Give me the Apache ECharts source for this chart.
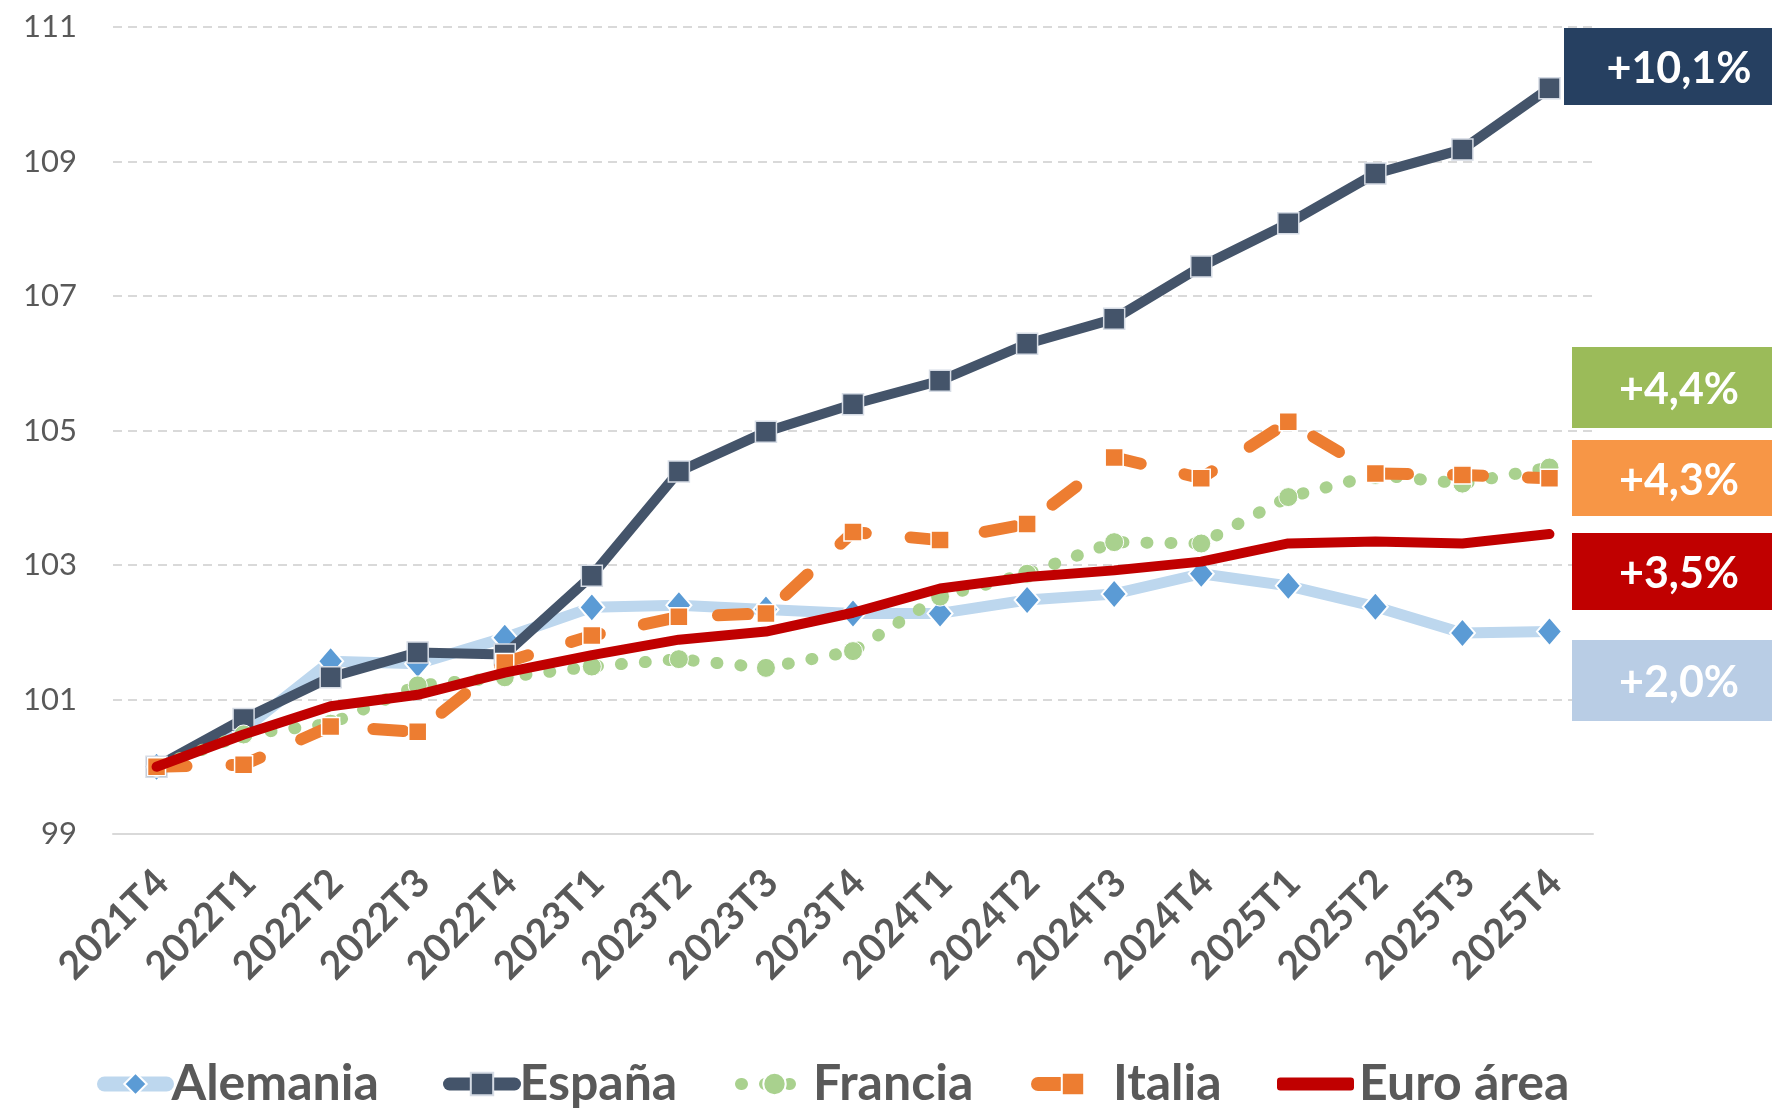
<!DOCTYPE html>
<html>
<head>
<meta charset="utf-8">
<script src="https://cdn.jsdelivr.net/npm/echarts@6/dist/echarts.min.js"></script>
<style>
html,body{margin:0;padding:0;background:#fff;}
#chart{width:1772px;height:1108px;}
</style>
</head>
<body>
<div id="chart"></div>
<script>
const categories = ['2021T4','2022T1','2022T2','2022T3','2022T4','2023T1','2023T2','2023T3','2023T4','2024T1','2024T2','2024T3','2024T4','2025T1','2025T2','2025T3','2025T4'];
const alemania = [100, 100.55, 101.57, 101.53, 101.92, 102.37, 102.40, 102.34, 102.28, 102.28, 102.48, 102.57, 102.87, 102.69, 102.38, 101.99, 102.01];
const espana   = [100, 100.71, 101.33, 101.70, 101.67, 102.84, 104.39, 104.98, 105.39, 105.74, 106.29, 106.66, 107.44, 108.08, 108.82, 109.18, 110.09];
const francia  = [100, 100.48, 100.64, 101.21, 101.33, 101.49, 101.60, 101.47, 101.72, 102.53, 102.87, 103.34, 103.32, 104.01, 104.34, 104.21, 104.45];
const italia   = [100, 100.03, 100.60, 100.52, 101.55, 101.95, 102.23, 102.28, 103.49, 103.37, 103.61, 104.60, 104.29, 105.13, 104.36, 104.34, 104.29];
const euro     = [100, 100.48, 100.90, 101.07, 101.40, 101.66, 101.89, 102.01, 102.29, 102.65, 102.82, 102.92, 103.05, 103.32, 103.35, 103.32, 103.46];
const seriesNames = ['Alemania','España','Francia','Italia','Euro área'];
const endLabels = ['+10,1%','+4,4%','+4,3%','+3,5%','+2,0%'];
const yTicks = {min: 99, max: 111, step: 2};

const FONT = 'Lato, "Open Sans", sans-serif';
const chart = echarts.init(document.getElementById('chart'), null, {renderer: 'canvas'});

function legendAt(item, left, extra) {
  return Object.assign({
    data: [item], left: left, top: 1059, itemWidth: 77, itemHeight: 28, itemGap: 0, padding: 0,
    textStyle: {fontFamily: FONT, fontSize: 50, fontWeight: 'bold', color: '#595959'}
  }, extra || {});
}

const boxes = [
  {text: endLabels[0], color: '#264061', x: 1564, y: 28, h: 77},
  {text: endLabels[1], color: '#9BBB59', x: 1572, y: 347, h: 81},
  {text: endLabels[2], color: '#F79646', x: 1572, y: 440, h: 76},
  {text: endLabels[3], color: '#C00000', x: 1572, y: 533, h: 77},
  {text: endLabels[4], color: '#B9CDE5', x: 1572, y: 640, h: 81}
];
const graphics = [];
boxes.forEach(b => {
  graphics.push({type: 'rect', z: 100, shape: {x: b.x, y: b.y, width: 1772 - b.x, height: b.h}, style: {fill: b.color}});
  graphics.push({type: 'text', z: 101, x: 1679, y: b.y + b.h / 2 + 3,
    style: {text: b.text, fill: '#ffffff', font: 'bold 43px ' + FONT, textAlign: 'center', textVerticalAlign: 'middle'}});
});

const option = {
  animation: false,
  backgroundColor: '#ffffff',
  grid: {left: 113, right: 179, top: 27, bottom: 274, containLabel: false},
  legend: [
    legendAt(seriesNames[0], 97, {itemWidth: 62, lineStyle: {width: 15, cap: 'round'}}),
    legendAt(seriesNames[1], 443, {itemWidth: 65, lineStyle: {width: 13, cap: 'round'}}),
    legendAt(seriesNames[2], 735, {itemWidth: 67, lineStyle: {width: 12, cap: 'round', type: [1, 23]}}),
    legendAt(seriesNames[3], 1031, {itemWidth: 70, lineStyle: {width: 14, cap: 'round', type: [22, 50]}}),
    legendAt({name: seriesNames[4], icon: 'roundRect'}, 1277, {itemHeight: 13})
  ],
  xAxis: {
    type: 'category', data: categories, boundaryGap: true,
    axisLine: {show: true, lineStyle: {color: '#D9D9D9', width: 2}},
    axisTick: {show: false},
    axisLabel: {rotate: 45, margin: 48, fontFamily: FONT, fontSize: 39, fontWeight: 'bold', color: '#595959', interval: 0, padding: [0, -8, 0, 0]}
  },
  yAxis: {
    type: 'value', min: yTicks.min, max: yTicks.max, interval: yTicks.step,
    axisLine: {show: false}, axisTick: {show: false},
    splitLine: {show: true, lineStyle: {color: '#D9D9D9', width: 2, type: [9, 6]}},
    axisLabel: {margin: 36, fontFamily: FONT, fontSize: 31, color: '#595959'}
  },
  series: [
    {name: seriesNames[0], type: 'line', data: alemania, z: 2,
     lineStyle: {color: '#BDD7EE', width: 11}, itemStyle: {color: '#5B9BD5', borderColor: '#ffffff', borderWidth: 2},
     symbol: 'diamond', symbolSize: [25, 29], showAllSymbol: true},
    {name: seriesNames[1], type: 'line', data: espana, z: 3,
     lineStyle: {color: '#44546A', width: 10}, itemStyle: {color: '#44546A', borderColor: '#D6DCE5', borderWidth: 1.5},
     symbol: 'rect', symbolSize: 21, showAllSymbol: true},
    {name: seriesNames[2], type: 'line', data: francia, z: 4,
     lineStyle: {color: '#A9D18E', width: 12, type: [1, 23], cap: 'round'}, itemStyle: {color: '#A9D18E', borderColor: '#ffffff', borderWidth: 1},
     symbol: 'circle', symbolSize: 19, showAllSymbol: true},
    {name: seriesNames[3], type: 'line', data: italia, z: 5,
     lineStyle: {color: '#ED7D31', width: 12, type: [30, 45], cap: 'round'}, itemStyle: {color: '#ED7D31', borderColor: '#ffffff', borderWidth: 1.5},
     symbol: 'rect', symbolSize: 18, showAllSymbol: true},
    {name: seriesNames[4], type: 'line', data: euro, z: 6,
     lineStyle: {color: '#C00000', width: 10, cap: 'round'}, itemStyle: {color: '#C00000'},
     symbol: 'none'}
  ],
  graphic: graphics
};
chart.setOption(option);
</script>
</body>
</html>
